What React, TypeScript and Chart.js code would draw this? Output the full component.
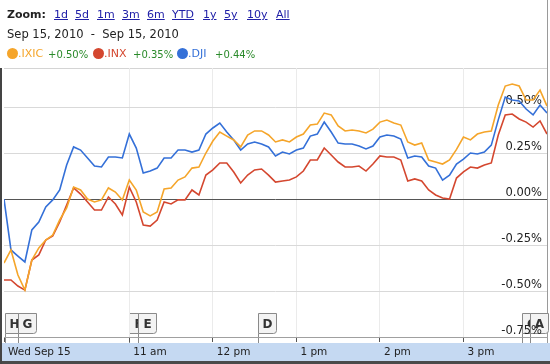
import React, { useEffect, useRef } from "react";
import { Chart, registerables } from "chart.js";

Chart.register(...registerables);

// minutes after 9:30 am
const TIMES = [
  0, 5, 10, 15, 20, 25, 30, 35, 40, 45, 50, 55, 60, 65, 70, 75, 80, 85, 90, 95,
  100, 105, 110, 115, 120, 125, 130, 135, 140, 145, 150, 155, 160, 165, 170, 175,
  180, 185, 190, 195, 200, 205, 210, 215, 220, 225, 230, 235, 240, 245, 250, 255,
  260, 265, 270, 275, 280, 285, 290, 295, 300, 305, 310, 315, 320, 325, 330, 335,
  340, 345, 350, 355, 360, 365, 370, 375, 380, 385, 390,
];

const IXIC = [
  -0.348, -0.277, -0.413, -0.495, -0.332, -0.266, -0.223, -0.196, -0.114, -0.049,
  0.065, 0.049, 0.0, -0.016, -0.005, 0.06, 0.038, -0.005, 0.103, 0.049,
  -0.071, -0.092, -0.071, 0.054, 0.06, 0.103, 0.12, 0.168, 0.174, 0.25,
  0.315, 0.364, 0.342, 0.321, 0.283, 0.348, 0.37, 0.37, 0.348, 0.31,
  0.321, 0.31, 0.337, 0.353, 0.402, 0.407, 0.467, 0.457, 0.397, 0.37,
  0.375, 0.37, 0.359, 0.38, 0.418, 0.429, 0.413, 0.402, 0.31, 0.293,
  0.304, 0.212, 0.201, 0.19, 0.212, 0.27, 0.337, 0.321, 0.353, 0.364,
  0.37, 0.511, 0.614, 0.625, 0.614, 0.538, 0.538, 0.592, 0.505,
];

const INX = [
  -0.44, -0.44, -0.473, -0.495, -0.332, -0.304, -0.223, -0.201, -0.125, -0.033,
  0.06, 0.027, -0.016, -0.06, -0.06, 0.011, -0.027, -0.087, 0.065, -0.016,
  -0.141, -0.147, -0.114, -0.016, -0.027, -0.005, -0.005, 0.049, 0.022, 0.13,
  0.158, 0.196, 0.196, 0.147, 0.087, 0.13, 0.158, 0.163, 0.13, 0.092,
  0.098, 0.103, 0.12, 0.152, 0.212, 0.212, 0.277, 0.239, 0.201, 0.174,
  0.174, 0.179, 0.152, 0.19, 0.234, 0.228, 0.228, 0.212, 0.098, 0.109,
  0.098, 0.049, 0.022, 0.005, 0.0, 0.114, 0.147, 0.174, 0.168, 0.185,
  0.196, 0.348, 0.457, 0.462, 0.435, 0.418, 0.391, 0.424, 0.353,
];

const DJI = [
  0.0, -0.277, -0.31, -0.342, -0.168, -0.125, -0.043, -0.005, 0.049, 0.185,
  0.283, 0.266, 0.223, 0.179, 0.174, 0.228, 0.228, 0.223, 0.353, 0.277,
  0.141, 0.152, 0.168, 0.223, 0.223, 0.266, 0.266, 0.255, 0.266, 0.353,
  0.386, 0.413, 0.364, 0.321, 0.266, 0.299, 0.31, 0.299, 0.283, 0.234,
  0.255, 0.245, 0.266, 0.277, 0.342, 0.353, 0.418, 0.364, 0.304, 0.299,
  0.299, 0.288, 0.272, 0.288, 0.337, 0.348, 0.342, 0.326, 0.223, 0.234,
  0.228, 0.179, 0.168, 0.103, 0.13, 0.19, 0.217, 0.25, 0.245, 0.255,
  0.293, 0.43, 0.554, 0.538, 0.533, 0.489, 0.457, 0.511, 0.467,
];

const Y_TICKS = [-0.75, -0.5, -0.25, 0, 0.25, 0.5];
const X_TICKS = [0, 90, 150, 210, 270, 330];
const X_LABELS = ["Wed Sep 15", "11 am", "12 pm", "1 pm", "2 pm", "3 pm"];
const FLAG_TIMES = [0.5, 10, 90, 96.5, 182.5, 372, 378];
const FLAG_LETTERS = ["H", "G", "F", "E", "D", "C", "A"];
const ZOOM_LINKS = ["1d", "5d", "1m", "3m", "6m", "YTD", "1y", "5y", "10y", "All"];
const ZOOM_LEFTS = [54, 75, 97, 122, 147, 172, 203, 224, 247, 276];
const SERIES_NAMES = [".IXIC", ".INX", ".DJI"];
const SERIES_CHANGES = ["+0.50%", "+0.35%", "+0.44%"];
const SERIES_COLORS = ["#f5a52a", "#d4472f", "#3470d8"];
const LEGEND_LEFTS = [7, 93, 177];

const FONT = '"DejaVu Sans", Verdana, sans-serif';

export default function App() {
  const ref = useRef<HTMLCanvasElement>(null);

  useEffect(() => {
    const canvas = ref.current;
    if (!canvas) return;

    const framePlugin = {
      id: "frame",
      beforeDraw(chart: any) {
        const { ctx, chartArea } = chart;
        const xs = chart.scales.x;
        ctx.save();
        // date band
        ctx.fillStyle = "#c5d9f2";
        ctx.fillRect(0, 343, 550, 18);
        ctx.fillStyle = "#4a4a4a";
        ctx.fillRect(0, 361, 550, 3);
        // left border
        ctx.fillStyle = "#444";
        ctx.fillRect(0, chartArea.top, 2, 364 - chartArea.top);
        // right border
        ctx.fillStyle = "#9a9a9a";
        ctx.fillRect(547, 0, 1, 343);
        // top border of plot
        ctx.fillStyle = "#d4d4d4";
        ctx.fillRect(chartArea.left, chartArea.top, chartArea.right - chartArea.left, 1);

        // news flags
        FLAG_TIMES.forEach((t, i) => {
          const x = Math.round(xs.getPixelForValue(t)) + 0.5;
          const top = 313.5;
          const bottom = 333.5;
          const w = 18;
          ctx.strokeStyle = "#8a8a8a";
          ctx.lineWidth = 1;
          ctx.beginPath();
          ctx.moveTo(x, bottom);
          ctx.lineTo(x, 343);
          ctx.stroke();
          ctx.fillStyle = "#f3f3f3";
          ctx.beginPath();
          ctx.moveTo(x, top);
          ctx.lineTo(x + w, top);
          ctx.lineTo(x + w, bottom - 3);
          ctx.quadraticCurveTo(x + w, bottom, x + w - 3, bottom);
          ctx.lineTo(x, bottom);
          ctx.closePath();
          ctx.fill();
          ctx.stroke();
          ctx.fillStyle = "#333";
          ctx.font = `bold 12px ${FONT}`;
          ctx.textAlign = "center";
          ctx.textBaseline = "alphabetic";
          ctx.fillText(FLAG_LETTERS[i], x + w / 2, 328);
        });
        ctx.restore();
      },
    };

    const mk = (vals: number[]) => TIMES.map((t, i) => ({ x: t, y: vals[i] }));

    const chart = new Chart(canvas, {
      type: "line",
      data: {
        datasets: [
          { label: SERIES_NAMES[0], data: mk(IXIC), borderColor: SERIES_COLORS[0], borderWidth: 1.6, pointRadius: 0, tension: 0 },
          { label: SERIES_NAMES[1], data: mk(INX), borderColor: SERIES_COLORS[1], borderWidth: 1.6, pointRadius: 0, tension: 0 },
          { label: SERIES_NAMES[2], data: mk(DJI), borderColor: SERIES_COLORS[2], borderWidth: 1.6, pointRadius: 0, tension: 0 },
        ],
      },
      options: {
        animation: false,
        responsive: false,
        devicePixelRatio: 1,
        layout: { padding: { left: 2, right: 3, top: 68, bottom: 0 } },
        plugins: { legend: { display: false }, tooltip: { enabled: false } },
        scales: {
          x: {
            type: "linear",
            min: 0,
            max: 390,
            afterBuildTicks: (s: any) => {
              s.ticks = X_TICKS.map((v) => ({ value: v }));
            },
            afterFit: (s: any) => {
              s.height = 27;
            },
            grid: {
              color: (c: any) => (c.tick && c.tick.value === 0 ? "rgba(0,0,0,0)" : "#ebebeb"),
              tickColor: "#555",
              tickLength: 5,
              drawTicks: true,
            },
            border: { display: true, color: "#a0a0a0" },
            ticks: {
              align: "start",
              labelOffset: 4,
              padding: 4,
              color: "#222",
              font: { family: FONT, size: 10.5 },
              maxRotation: 0,
              autoSkip: false,
              callback: (_v: any, i: number) => X_LABELS[i],
            },
          },
          y: {
            position: "right",
            min: -0.75,
            max: 0.712,
            afterBuildTicks: (s: any) => {
              s.ticks = Y_TICKS.map((v) => ({ value: v }));
            },
            afterFit: (s: any) => {
              s.width = 0;
            },
            grid: {
              color: (c: any) =>
                c.tick && c.tick.value === 0 ? "#555" : c.tick && c.tick.value === -0.75 ? "#a0a0a0" : "#d9d9d9",
              drawTicks: false,
            },
            border: { display: false },
            ticks: {
              mirror: true,
              padding: -5,
              labelOffset: -5.5,
              color: "#222",
              font: { family: FONT, size: 11.5 },
              callback: (v: any) => Number(v).toFixed(2) + "%",
            },
          },
        },
      } as any,
      plugins: [framePlugin],
    });

    return () => chart.destroy();
  }, []);

  return (
    <div
      style={{
        position: "absolute",
        left: 0,
        top: 0,
        width: 550,
        height: 364,
        background: "#fff",
        fontFamily: FONT,
        overflow: "hidden",
      }}
    >
      <canvas ref={ref} width={550} height={364} style={{ position: "absolute", left: 0, top: 0, width: 550, height: 364 }} />
      <span style={{ position: "absolute", left: 7, top: 8, fontSize: 11, lineHeight: "14px", fontWeight: "bold", color: "#222" }}>
        Zoom:
      </span>
      {ZOOM_LINKS.map((l, i) => (
        <span
          key={l}
          style={{
            position: "absolute",
            left: ZOOM_LEFTS[i],
            top: 8,
            fontSize: 11,
            lineHeight: "14px",
            color: "#2020a8",
            textDecoration: "underline",
          }}
        >
          {l}
        </span>
      ))}
      <span style={{ position: "absolute", left: 7, top: 27, fontSize: 11.5, lineHeight: "14px", color: "#222", whiteSpace: "pre" }}>
        {"Sep 15, 2010  -  Sep 15, 2010"}
      </span>
      {SERIES_NAMES.map((n, i) => (
        <React.Fragment key={n}>
          <span
            style={{
              position: "absolute",
              left: LEGEND_LEFTS[i],
              top: 48,
              width: 11,
              height: 11,
              borderRadius: "50%",
              background: SERIES_COLORS[i],
            }}
          />
          <span
            style={{
              position: "absolute",
              left: LEGEND_LEFTS[i] + 11,
              top: 47,
              fontSize: 11,
              lineHeight: "14px",
              color: SERIES_COLORS[i],
            }}
          >
            {n}
          </span>
          <span
            style={{
              position: "absolute",
              left: LEGEND_LEFTS[i] + (i === 0 ? 41 : i === 1 ? 40 : 38),
              top: 48,
              fontSize: 10,
              lineHeight: "13px",
              color: "#2a8a2a",
            }}
          >
            {SERIES_CHANGES[i]}
          </span>
        </React.Fragment>
      ))}
    </div>
  );
}
